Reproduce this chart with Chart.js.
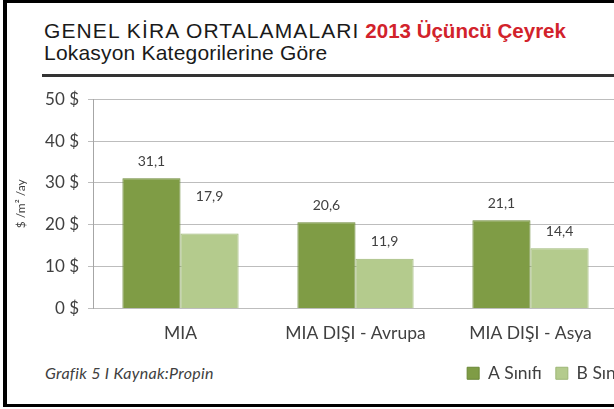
<!DOCTYPE html>
<html>
<head>
<meta charset="utf-8">
<script src="https://cdn.jsdelivr.net/npm/chart.js@4.4.1/dist/chart.umd.min.js"></script>
<style>
  html, body { margin:0; padding:0; }
  body { width:614px; height:409px; overflow:hidden; position:relative; background:#fff; }
  #frame { position:absolute; left:3px; top:0; width:700px; height:401px; border:3px solid #000; border-left-width:4px; box-sizing:content-box; }
  .title { position:absolute; left:44px; top:20px; font-family:"Liberation Sans", Arial, sans-serif; font-size:21px; line-height:21px; color:#1a1a1a; white-space:nowrap; }
  .title span { letter-spacing:1.1px; }
  .title b { color:#d2222b; font-size:20.5px; }
  .subtitle { position:absolute; left:44px; top:42px; font-family:"Liberation Sans", Arial, sans-serif; font-size:21px; line-height:21px; letter-spacing:0.2px; color:#1a1a1a; white-space:nowrap; }
  .rule { position:absolute; left:42px; top:74px; width:700px; height:3px; background:#333; }
  .footer { position:absolute; left:45px; top:364px; font-family:Lato, sans-serif; font-style:italic; font-size:16px; line-height:18px; letter-spacing:0.3px; color:#404040; white-space:nowrap; }
  #wrap { position:absolute; left:0; top:80px; width:644px; height:312px; }
</style>
</head>
<body>
<div id="frame"></div>
<div class="title"><span>GENEL KİRA ORTALAMALARI</span> <b>2013 Üçüncü Çeyrek</b></div>
<div class="subtitle">Lokasyon Kategorilerine Göre</div>
<div class="rule"></div>
<div class="footer">Grafik 5 I Kaynak:Propin</div>
<div id="wrap"><canvas id="c"></canvas></div>
<script>
const categories = ['MIA', 'MIA DIŞI - Avrupa', 'MIA DIŞI - Asya'];
const seriesNames = ['A Sınıfı', 'B Sınıfı'];
const classA = [31.1, 20.6, 21.1];
const classB = [17.9, 11.9, 14.4];
const yMin = 0, yMax = 50, yStep = 10;
const yAxisTitle = '$ /m² /ay';

const fmt = v => v.toFixed(1).replace('.', ',');
const LABEL_LIFT = 17;
const LABEL_LIFT_SPECIAL = { '1-0': 37 };

const valueLabels = {
  id: 'valueLabels',
  afterDatasetsDraw(chart) {
    const ctx = chart.ctx;
    ctx.save();
    ctx.font = '14px Lato';
    ctx.fillStyle = '#404040';
    ctx.textAlign = 'center';
    ctx.textBaseline = 'middle';
    chart.data.datasets.forEach((ds, di) => {
      const meta = chart.getDatasetMeta(di);
      meta.data.forEach((bar, i) => {
        const lift = LABEL_LIFT_SPECIAL[di + '-' + i] || LABEL_LIFT;
        ctx.fillText(fmt(ds.data[i]), bar.x, bar.y - lift);
      });
    });
    ctx.restore();
  }
};

function draw() {
  new Chart(document.getElementById('c'), {
    type: 'bar',
    data: {
      labels: categories,
      datasets: [
        { label: seriesNames[0], data: classA, backgroundColor: '#7f9c45', borderColor: '#6a8736', borderWidth: 1 },
        { label: seriesNames[1], data: classB, backgroundColor: '#b4cb8d', borderColor: '#9db676', borderWidth: 1 }
      ]
    },
    options: {
      responsive: true,
      maintainAspectRatio: false,
      animation: false,
      layout: { padding: { top: 16, right: 0, left: 0, bottom: 0 } },
      datasets: { bar: { categoryPercentage: 0.664, barPercentage: 1.0 } },
      plugins: {
        legend: {
          position: 'bottom',
          align: 'end',
          labels: { boxWidth: 12, boxHeight: 12, padding: 14, color: '#404040', font: { family: 'Lato', size: 17.5 } }
        },
        tooltip: { enabled: false },
        title: { display: false }
      },
      scales: {
        x: {
          grid: { display: false, drawTicks: false },
          border: { display: false },
          ticks: { color: '#404040', font: { family: 'Lato', size: 17.5 }, padding: 14 },
          afterFit: s => { s.height = 42; }
        },
        y: {
          min: yMin, max: yMax,
          ticks: { stepSize: yStep, callback: v => v + ' $', color: '#404040', font: { family: 'Lato', size: 17 }, padding: 9 },
          grid: { color: '#bdbdbd', tickLength: 5, drawTicks: true },
          border: { display: true, color: '#a6a6a6' },
          title: { display: true, text: yAxisTitle, color: '#404040', font: { family: 'Lato', size: 12 }, padding: { top: 14, bottom: 0 } },
          afterFit: s => { s.width = 93; }
        },
        yRight: {
          position: 'right',
          display: true,
          ticks: { display: false },
          grid: { display: false, drawTicks: false },
          border: { display: false },
          afterFit: s => { s.width = 26; }
        }
      }
    },
    plugins: [valueLabels]
  });
}

Promise.all([
  document.fonts.load('15px Lato'),
  document.fonts.load('italic 16px Lato'),
  document.fonts.load('21px "Liberation Sans"'),
  document.fonts.load('bold 21px "Liberation Sans"')
]).then(draw, draw);
</script>
</body>
</html>
